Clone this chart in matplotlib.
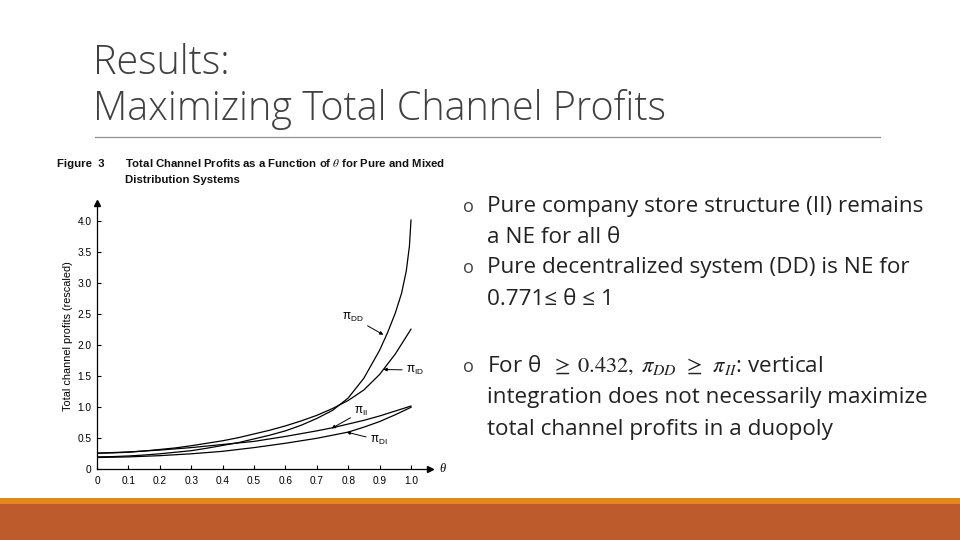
import numpy as np
import matplotlib
matplotlib.use("Agg")
import matplotlib.pyplot as plt

# values
theta = [0.0, 0.05, 0.1, 0.15, 0.2, 0.25, 0.3, 0.35, 0.4, 0.45, 0.5,
         0.55, 0.6, 0.65, 0.7, 0.75, 0.8, 0.85, 0.9, 0.95, 1.0]
theta_dd = [0.0, 0.05, 0.1, 0.15, 0.2, 0.25, 0.3, 0.35, 0.4, 0.45, 0.5,
            0.55, 0.6, 0.65, 0.7, 0.75, 0.8, 0.85, 0.9, 0.925, 0.95, 0.97, 0.985, 0.995, 1.0]
pi_dd = [0.20, 0.205, 0.215, 0.23, 0.25, 0.275, 0.30, 0.34, 0.385, 0.43, 0.49,
         0.55, 0.62, 0.71, 0.82, 0.95, 1.15, 1.47, 1.92, 2.20, 2.52, 2.84, 3.20, 3.60, 4.02]
pi_id = [0.26, 0.265, 0.275, 0.295, 0.32, 0.345, 0.38, 0.42, 0.46, 0.51, 0.57,
         0.63, 0.70, 0.78, 0.87, 0.98, 1.11, 1.28, 1.53, 1.86, 2.26]
pi_ii = [0.26, 0.27, 0.28, 0.295, 0.31, 0.33, 0.35, 0.375, 0.40, 0.425, 0.45,
         0.49, 0.53, 0.575, 0.62, 0.67, 0.73, 0.79, 0.86, 0.94, 1.02]
pi_di = [0.19, 0.195, 0.20, 0.21, 0.22, 0.235, 0.25, 0.27, 0.29, 0.32, 0.35,
         0.385, 0.42, 0.46, 0.50, 0.55, 0.60, 0.68, 0.77, 0.88, 1.00]

xticks = [0, 0.1, 0.2, 0.3, 0.4, 0.5, 0.6, 0.7, 0.8, 0.9, 1.0]
xtick_labels = ["0", "0.1", "0.2", "0.3", "0.4", "0.5", "0.6", "0.7", "0.8", "0.9", "1.0"]
yticks = [0, 0.5, 1.0, 1.5, 2.0, 2.5, 3.0, 3.5, 4.0]
ytick_labels = ["0", "0.5", "1.0", "1.5", "2.0", "2.5", "3.0", "3.5", "4.0"]

bullets = [
    ["Pure company store structure (II) remains", "a NE for all θ"],
    ["Pure decentralized system (DD) is NE for", "0.771≤ θ ≤ 1"],
    [r"For θ $\;\geq\;0.432,\;\pi_{DD}\;\,\geq\;\,\pi_{II}$: vertical",
     "integration does not necessarily maximize",
     "total channel profits in a duopoly"],
]

W, H = 960, 540
plt.rcParams["mathtext.fontset"] = "stix"


def fx(px):
    return px / W


def fy(py):
    return 1 - py / H


fig = plt.figure(figsize=(9.6, 5.4), dpi=100)
fig.patch.set_facecolor("white")

# slide title
title_font = dict(family=["Open Sans", "DejaVu Sans"], fontweight="light", color="#404040", fontsize=28.5)
fig.text(fx(93), fy(74), "Results:", va="baseline", **title_font)
fig.text(fx(93), fy(120), "Maximizing Total Channel Profits", va="baseline", **title_font)
fig.add_artist(plt.Line2D([fx(95), fx(880)], [fy(137), fy(137)], color="#909090", lw=0.9))

# bottom band
fig.add_artist(plt.Rectangle((0, 0), 1, fy(504), color="#BE5B2D", lw=0))
fig.add_artist(plt.Rectangle((0, fy(504)), 1, fy(498) - fy(504), color="#E3871F", lw=0))

# figure caption
cap_font = dict(family=["Liberation Sans Narrow", "Liberation Sans", "DejaVu Sans"],
                fontweight="bold", fontsize=8.2, color="#111111")
fig.text(fx(57), fy(167), "Figure  3", va="baseline", **cap_font)
fig.text(fx(125), fy(167), "Total Channel Profits as a Function of $\\theta$ for Pure and Mixed",
         va="baseline", **cap_font)
fig.text(fx(125), fy(183), "Distribution Systems", va="baseline", **cap_font)

# chart
x0, y0 = 97, 469.3
ppx, ppy = 314, 62
xmax, ymax = 1.06, 4.3
ax = fig.add_axes([fx(x0), fy(y0), xmax * ppx / W, ymax * ppy / H])
ax.set_facecolor("none")
ax.plot(theta_dd, pi_dd, color="black", lw=0.9)
for series in [pi_id, pi_ii, pi_di]:
    ax.plot(theta, series, color="black", lw=0.9)

ax.set_xlim(0, xmax)
ax.set_ylim(0, ymax)
ax.spines["top"].set_visible(False)
ax.spines["right"].set_visible(False)
ax.spines["left"].set_linewidth(0.9)
ax.spines["bottom"].set_linewidth(0.9)
ax.set_xticks(xticks)
ax.set_xticklabels(xtick_labels)
ax.set_yticks(yticks)
ax.set_yticklabels(ytick_labels)
tick_font = ["Liberation Sans", "DejaVu Sans"]
ax.tick_params(direction="in", length=3, width=0.8, labelsize=7.3, pad=4)
ax.tick_params(axis="x", pad=5)
for lab in ax.get_xticklabels() + ax.get_yticklabels():
    lab.set_family(tick_font)
ax.plot(1, 0, ">k", ms=4, transform=ax.transAxes, clip_on=False)
ax.plot(0, 1, "^k", ms=4, transform=ax.transAxes, clip_on=False)
ax.text(1.03, 0, "θ", transform=ax.transAxes, va="center", ha="left",
        fontsize=9, style="italic", family=["Liberation Serif", "DejaVu Serif"])
ax.set_ylabel("Total channel profits (rescaled)", fontsize=7.8, family=tick_font, labelpad=3)

lab_font = dict(fontsize=8.5, family=tick_font, math_fontfamily="dejavusans")
arrow = dict(arrowstyle="-|>", color="black", lw=0.7, mutation_scale=5, shrinkA=1, shrinkB=0)
ax.annotate(r"π$_{\mathregular{DD}}$", xy=(0.912, 2.17), xytext=(0.78, 2.45), arrowprops=arrow,
            va="center", ha="left", **lab_font)
ax.annotate(r"π$_{\mathregular{ID}}$", xy=(0.912, 1.61), xytext=(0.985, 1.6), arrowprops=arrow,
            va="center", ha="left", **lab_font)
ax.annotate(r"π$_{\mathregular{II}}$", xy=(0.747, 0.66), xytext=(0.82, 0.93), arrowprops=arrow,
            va="center", ha="left", **lab_font)
ax.annotate(r"π$_{\mathregular{DI}}$", xy=(0.795, 0.60), xytext=(0.87, 0.47), arrowprops=arrow,
            va="center", ha="left", **lab_font)

# bullet text
body_font = dict(family=["Open Sans", "DejaVu Sans"], fontsize=16.2, color="#222222")
baselines = [[211.7, 243.3], [273.3, 305], [371.7, 403.3, 435]]
for lines, ys in zip(bullets, baselines):
    fig.text(fx(463.5), fy(ys[0]), "o", va="baseline", ha="left",
             family=["Open Sans", "DejaVu Sans"], fontsize=13, color="#404040")
    for line, yb in zip(lines, ys):
        fig.text(fx(487), fy(yb), line, va="baseline", ha="left", **body_font)

fig.savefig("out.png", dpi=100)
